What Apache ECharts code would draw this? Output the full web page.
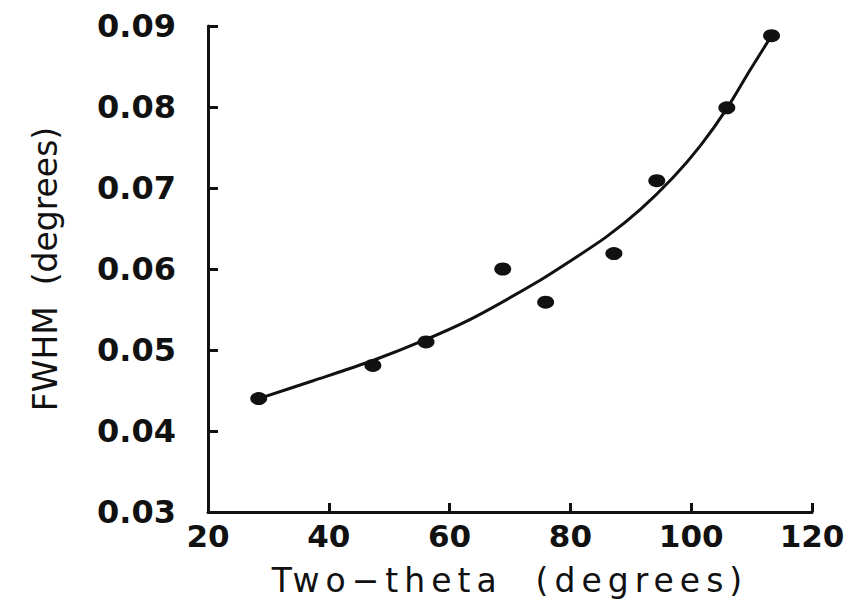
<!DOCTYPE html>
<html>
<head>
<meta charset="utf-8">
<script src="https://cdn.jsdelivr.net/npm/echarts@6/dist/echarts.min.js"></script>
<style>
html,body{margin:0;padding:0;background:#fff;}
#chart{width:850px;height:602px;}
#chart text[style*="Verdana"], #chart text[font-family*="Verdana"]{letter-spacing:6px;}
</style>
</head>
<body>
<div id="chart"></div>
<script>
// Measured data points (Two-theta, FWHM)
const twoTheta = [28.4, 47.3, 56.1, 68.8, 75.9, 87.2, 94.3, 105.9, 113.3];
const fwhm     = [0.0440, 0.0481, 0.0510, 0.0600, 0.0559, 0.0619, 0.0709, 0.0799, 0.0888];
// Fitted curve
const fitX = [28.4, 37.4, 47.3, 56.1, 64.0, 74.5, 80.0, 86.0, 91.5, 97.0, 101.5, 105.9, 109.7, 113.3];
const fitY = [0.0440, 0.0462, 0.0487, 0.0513, 0.0540, 0.0584, 0.0610, 0.0640, 0.0673, 0.0713, 0.0752, 0.0798, 0.0845, 0.0888];
// Axis ticks
const xTicks = [20, 40, 60, 80, 100, 120];
const yTicks = [0.03, 0.04, 0.05, 0.06, 0.07, 0.08, 0.09];

const ink = '#111';
const chart = echarts.init(document.getElementById('chart'), null, {renderer: 'svg'});
chart.setOption({
  animation: false,
  backgroundColor: '#fff',
  grid: {left: 208, right: 38, top: 26, bottom: 90, containLabel: false},
  xAxis: {
    type: 'value',
    min: xTicks[0], max: xTicks[xTicks.length - 1], interval: xTicks[1] - xTicks[0],
    name: 'Two\u2212theta  (degrees)',
    nameLocation: 'middle', nameGap: 52,
    nameTextStyle: {color: ink, fontFamily: 'Verdana, DejaVu Sans', fontSize: 33},
    axisLine: {show: true, lineStyle: {color: ink, width: 3}},
    axisTick: {show: true, inside: true, length: 9, lineStyle: {color: ink, width: 3}},
    axisLabel: {color: ink, fontFamily: 'DejaVu Sans', fontWeight: 'bold', fontSize: 31, margin: 8},
    splitLine: {show: false}
  },
  yAxis: {
    type: 'value',
    min: yTicks[0], max: yTicks[yTicks.length - 1], interval: 0.01,
    name: 'FWHM  (degrees)',
    nameLocation: 'middle', nameGap: 146,
    nameTextStyle: {color: ink, fontFamily: 'DejaVu Sans', fontSize: 33},
    axisLine: {show: true, lineStyle: {color: ink, width: 3}},
    axisTick: {show: true, inside: true, length: 10, lineStyle: {color: ink, width: 3}},
    axisLabel: {color: ink, fontFamily: 'DejaVu Sans', fontWeight: 'bold', fontSize: 32, margin: 32,
      formatter: v => v.toFixed(2)},
    splitLine: {show: false}
  },
  series: [
    {
      type: 'line',
      data: fitX.map((x, i) => [x, fitY[i]]),
      smooth: 0.3,
      showSymbol: false,
      lineStyle: {color: ink, width: 3},
      z: 2
    },
    {
      type: 'scatter',
      data: twoTheta.map((x, i) => [x, fwhm[i]]),
      symbol: 'circle',
      symbolSize: [17, 13],
      itemStyle: {color: ink, opacity: 1},
      z: 3
    }
  ]
});
</script>
</body>
</html>
